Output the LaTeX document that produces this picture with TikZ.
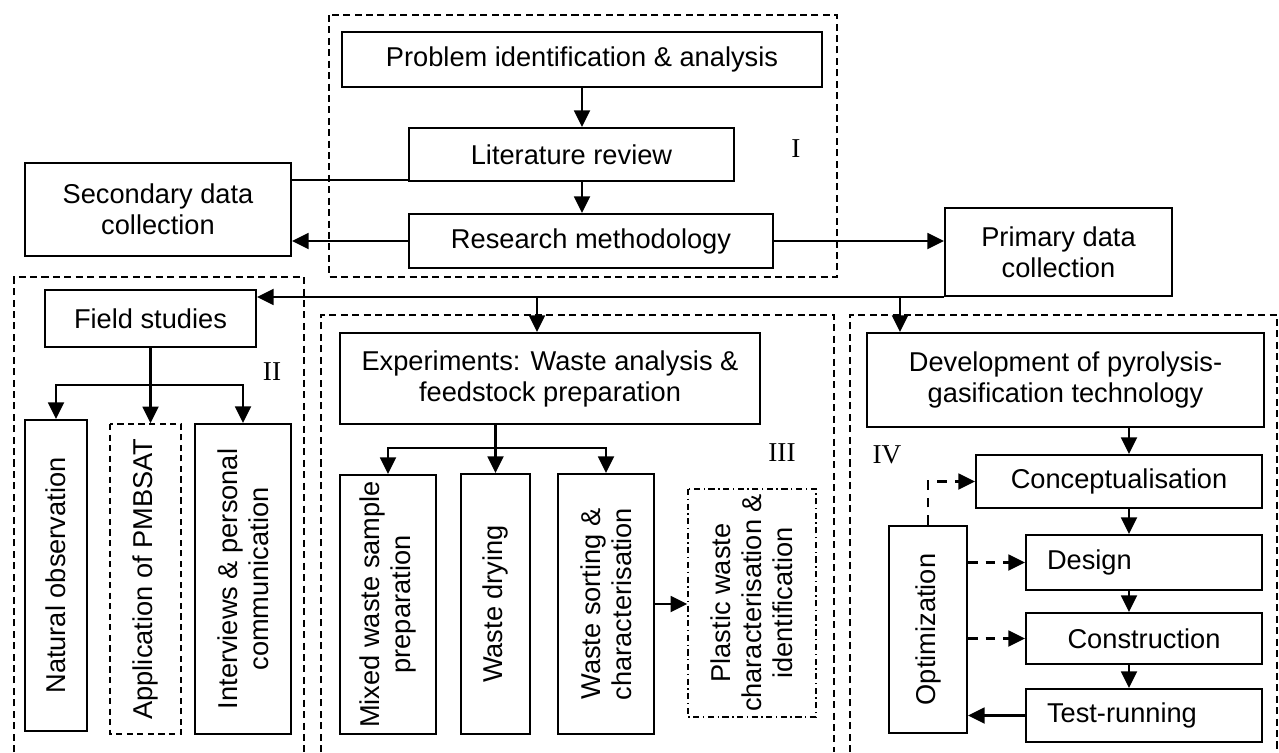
\documentclass[tikz,border=0pt]{standalone}
\usepackage{fontspec}
\setmainfont{Liberation Sans}
\newfontfamily\romfont{Liberation Serif}
\usetikzlibrary{arrows.meta}

\tikzset{
    box/.style={draw, line width=1.1pt, inner sep=0pt, align=center},
    sz/.style 2 args={minimum width=#1*0.02cm, minimum height=#2*0.02cm},
    vbox/.style={box, rotate=90},
    lbox/.style={box, align=left, text width=3.88cm, inner xsep=0.42cm},
    dbox/.style={vbox, line width=0.9pt, dash pattern=on 3.5pt off 2.5pt},
    ddbox/.style={vbox, line width=0.8pt, dash pattern=on 3.5pt off 2pt on 0.8pt off 2pt},
    arr/.style={line width=1.4pt, -{Triangle[length=9.5pt, width=9pt]}},
    darr/.style={arr, dash pattern=on 5.5pt off 4.5pt},
    frame/.style={line width=0.8pt, dash pattern=on 4pt off 2.5pt},
    num/.style={font=\romfont\fontsize{15.5}{17.6}\selectfont}
}

\begin{document}
\begin{tikzpicture}[x=0.02cm, y=-0.02cm, font=\fontsize{15.5}{17.6}\selectfont]
      \useasboundingbox (0,0) rectangle (1279,752);
      % dashed frames I to IV
      \draw [frame] (329,15) rectangle (837,277);
      \draw [frame] (14,752) |- (304,277) -- (304,752);
      \draw [frame] (321,752) |- (834,315) -- (834,752);
      \draw [frame] (850,752) |- (1277,315) -- (1277,752);
      % stage I
      \node [box, sz={480}{55}] (prob) at (582,59.5) {Problem identification \& analysis};
      \node [box, sz={325}{53}] (lit) at (571.5,154.5) {Literature review};
      \node [box, sz={364}{54}] (meth) at (591,241) {Research methodology};
      \node [box, sz={266}{93}] (sec) at (158,209.5) {Secondary data\\collection};
      \node [box, sz={227}{88}] (prim) at (1058.5,252) {Primary data\\collection};
      \node [num] (lI) at (796,149) {I};
      % stage II
      \node [box, sz={211}{57}] (field) at (150.5,318.5) {Field studies};
      \node [vbox, sz={311}{62}] (natural) at (56,575.5) {Natural observation};
      \node [dbox, sz={310}{71}] (pmbsat) at (145.5,579) {Application of PMBSAT};
      \node [vbox, sz={310}{96}] (interv) at (243,579) {Interviews \& personal\\communication};
      \node [num] (lII) at (272,372) {II};
      % stage III
      \node [box, sz={420}{91}] (exper) at (550,378.5) {Experiments: Waste analysis \&\\feedstock preparation};
      \node [vbox, sz={259}{96}] (mixed) at (388,604.5) {Mixed waste sample\\preparation};
      \node [vbox, sz={260}{69}] (drying) at (495.5,604) {Waste drying};
      \node [vbox, sz={260}{96}] (sorting) at (606,604) {Waste sorting \&\\characterisation};
      \node [ddbox, sz={228}{128}] (plastic) at (752,603) {Plastic waste\\characterisation \&\\identification};
      \node [num] (lIII) at (782,453) {III};
      % stage IV
      \node [box, sz={397}{94}] (devel) at (1065.5,380) {Development of pyrolysis-\\gasification technology};
      \node [box, sz={286}{53}] (concept) at (1119,481.5) {Conceptualisation};
      \node [lbox, sz={236}{55}] (design) at (1144,562.5) {Design};
      \node [box, sz={236}{51}] (constr) at (1144,638.5) {Construction};
      \node [lbox, sz={236}{53}] (testrun) at (1144,715.5) {Test-running};
      \node [vbox, sz={207}{78}] (optim) at (928,629.5) {Optimization};
      \node [num] (lIV) at (887,455) {IV};
      % connectors
      \coordinate (tapE) at (537,296);
      \coordinate (tapD) at (900,296);
      \coordinate (fbr) at (151,385);
      \coordinate (ebr) at (495.5,448);
      \coordinate (rx) at (1129,0);
      \draw [arr] (prob.south) -- (prob.south |- lit.north);
      \draw [arr] (prob.south |- lit.south) -- (prob.south |- meth.north);
      \draw [line width=1.1pt] ([yshift=0.04cm]lit.south west) -- ([yshift=0.04cm]lit.south west -| sec.east);
      \draw [arr] (meth.west) -- (meth.west -| sec.east);
      \draw [arr] (meth.east) -- (meth.east -| prim.west);
      \draw [arr] (prim.south west) -- (prim.south west -| field.east);
      \draw [arr] (tapE) -- (tapE |- exper.north);
      \draw [arr] (tapD) -- (tapD |- devel.north);
      \draw [arr] (field.south) -- (field.south |- pmbsat.east);
      \draw [arr] (fbr) -| (natural.east);
      \draw [arr] (fbr) -| (interv.east);
      \draw [arr] (drying.east |- exper.south) -- (drying.east);
      \draw [arr] (ebr) -| (mixed.east);
      \draw [arr] (ebr) -| (sorting.east);
      \draw [arr] (sorting.south) -- (sorting.south -| plastic.north);
      \draw [arr] (devel.south -| rx) -- (concept.north -| rx);
      \draw [arr] (concept.south -| rx) -- (design.north -| rx);
      \draw [arr] (design.south -| rx) -- (constr.north -| rx);
      \draw [arr] (constr.south -| rx) -- (testrun.north -| rx);
      \draw [darr] (optim.east) |- (concept.west);
      \draw [darr] (optim.south |- design.west) -- (design.west);
      \draw [darr] (optim.south |- constr.west) -- (constr.west);
      \draw [arr] (testrun.west) -- (testrun.west -| optim.south);
\end{tikzpicture}
\end{document}
